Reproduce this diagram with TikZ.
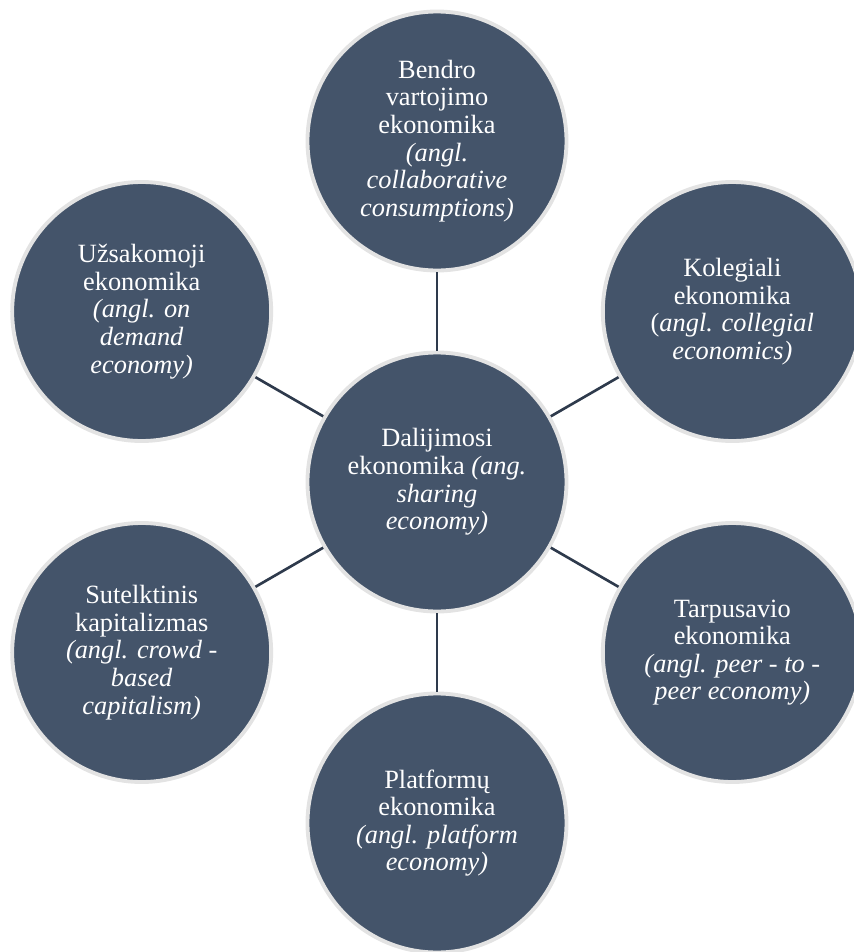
\documentclass[tikz,border=0pt]{standalone}
\usepackage{fontspec}
\setmainfont{Liberation Serif}
\usepackage{tikz}
\definecolor{slate}{HTML}{44546A}
\definecolor{rim}{HTML}{E3E3E3}
\definecolor{spokeline}{HTML}{2E3A4C}
\tikzset{
  bubble/.style = {shape=circle, draw=rim, line width=2.2pt,
                   fill=slate, text=white, align=center,
                   minimum size=5.18cm, inner sep=0pt,
                   font=\fontsize{15pt}{15.7pt}\selectfont},
  hub/.style    = {bubble},
  spoke/.style  = {draw=spokeline, line width=1.5pt}
}

\begin{document}
\begin{tikzpicture}
  \clip (-8.74,-9.40) rectangle (8.34,9.64);

  \node[hub] (dal) at (0,0)
    {Dalijimosi\\ekonomika \textit{(ang.}\\\textit{sharing}\\\textit{economy)}};
  \node[bubble] (bendro) at (90:6.82)
    {Bendro\\vartojimo\\ekonomika\\\textit{(angl.}\\\textit{collaborative}\\\textit{consumptions)}};
  \node[bubble] (kolegiali) at (30:6.82)
    {Kolegiali\\ekonomika\\(\textit{angl. collegial}\\\textit{economics)}};
  \node[bubble] (tarpusavio) at (-30:6.82)
    {Tarpusavio\\ekonomika\\\textit{(angl. peer - to -}\\\textit{peer economy)}};
  \node[bubble] (platformu) at (-90:6.82)
    {Platformų\\ekonomika\\\textit{(angl. platform}\\\textit{economy)}};
  \node[bubble] (sutelktinis) at (210:6.82)
    {Sutelktinis\\kapitalizmas\\\textit{(angl. crowd -}\\\textit{based}\\\textit{capitalism)}};
  \node[bubble] (uzsakomoji) at (150:6.82)
    {Užsakomoji\\ekonomika\\\textit{(angl. on}\\\textit{demand}\\\textit{economy)}};

  \draw[spoke] (dal) -- (bendro);
  \draw[spoke] (dal) -- (kolegiali);
  \draw[spoke] (dal) -- (tarpusavio);
  \draw[spoke] (dal) -- (platformu);
  \draw[spoke] (dal) -- (sutelktinis);
  \draw[spoke] (dal) -- (uzsakomoji);
\end{tikzpicture}
\end{document}
